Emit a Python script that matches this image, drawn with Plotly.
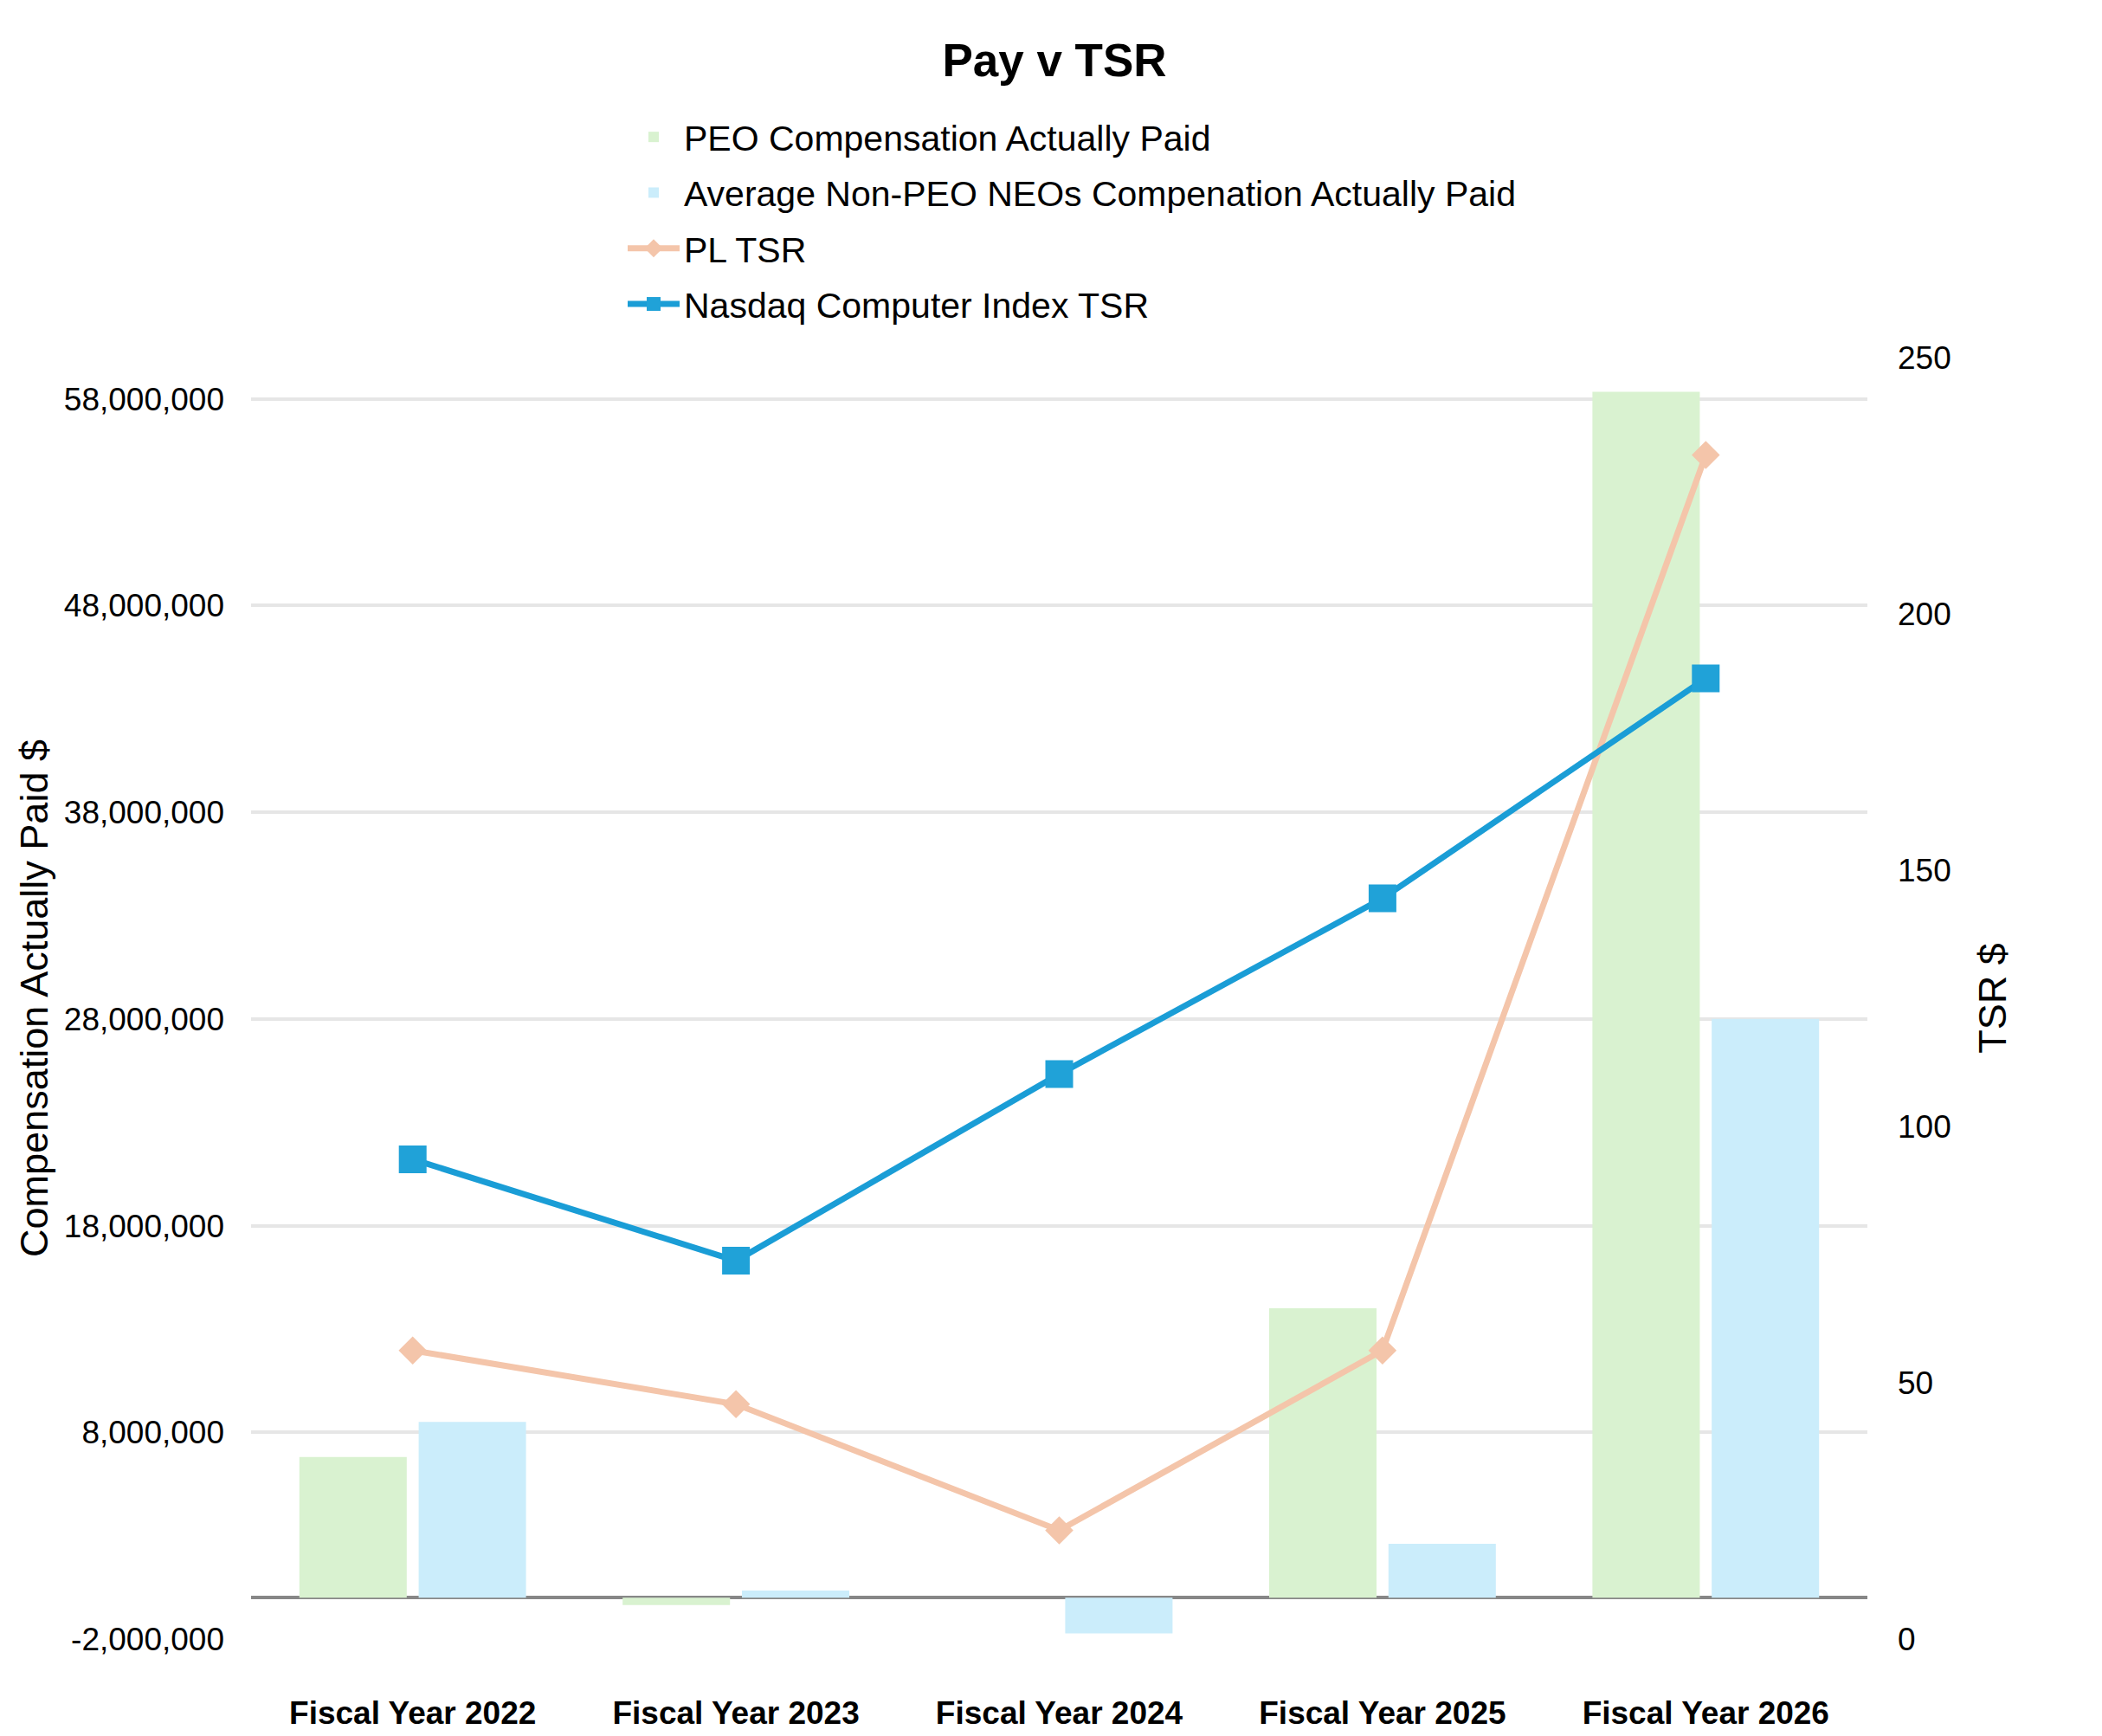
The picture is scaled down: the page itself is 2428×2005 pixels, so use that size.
import plotly.graph_objects as go

# ---------------- data ----------------
categories = ["Fiscal Year 2022", "Fiscal Year 2023", "Fiscal Year 2024",
              "Fiscal Year 2025", "Fiscal Year 2026"]
peo_cap = [6_810_000, -360_000, 0, 14_000_000, 58_350_000]
avg_neo_cap = [8_500_000, 350_000, -1_730_000, 2_610_000, 28_000_000]
pl_tsr = [56.3, 45.8, 21.2, 56.3, 231.0]
nasdaq_tsr = [93.6, 73.8, 110.2, 144.5, 187.4]

left_tickvals = [-2_000_000, 8_000_000, 18_000_000, 28_000_000,
                 38_000_000, 48_000_000, 58_000_000]
left_ticktext = ["-2,000,000", "8,000,000", "18,000,000", "28,000,000",
                 "38,000,000", "48,000,000", "58,000,000"]
right_tickvals = [0, 50, 100, 150, 200, 250]

series_names = ["PEO Compensation Actually Paid",
                "Average Non-PEO NEOs Compenation Actually Paid",
                "PL TSR",
                "Nasdaq Computer Index TSR"]

FONT = "Liberation Sans, Arial, sans-serif"

fig = go.Figure()
fig.add_trace(go.Bar(x=categories, y=peo_cap, name=series_names[0],
                     marker=dict(color="#D9F2D0", line=dict(width=0)),
                     legendgroup="a", yaxis="y"))
fig.add_trace(go.Bar(x=categories, y=avg_neo_cap, name=series_names[1],
                     marker=dict(color="#CBEDFB", line=dict(width=0)),
                     legendgroup="b", yaxis="y"))
fig.add_trace(go.Scatter(x=categories, y=pl_tsr, name=series_names[2],
                         mode="lines+markers",
                         line=dict(color="#F4C5AA", width=7),
                         marker=dict(symbol="diamond", size=25, color="#F4C5AA"),
                         legendgroup="c", yaxis="y2"))
fig.add_trace(go.Scatter(x=categories, y=nasdaq_tsr, name=series_names[3],
                         mode="lines+markers",
                         line=dict(color="#1A9DD6", width=7),
                         marker=dict(symbol="square", size=32, color="#20A2D8"),
                         legendgroup="d", yaxis="y2"))

fig.update_layout(
    width=2428, height=2005,
    margin=dict(l=290, r=271, t=413, b=112, autoexpand=False),
    paper_bgcolor="white", plot_bgcolor="white",
    font=dict(family=FONT, color="black", size=37),
    barmode="group", bargap=0.262, bargroupgap=0.1,
    title=dict(text="<b>Pay v TSR</b>", x=(1218 / 2428), xref="container",
               xanchor="center", y=1 - 69 / 2005, yanchor="middle",
               font=dict(size=53, family=FONT, color="black")),
    legend=dict(x=(720 - 290) / 1867, xanchor="left",
                y=(1893 - 125) / 1480, yanchor="top",
                font=dict(size=41, family=FONT, color="black"),
                tracegroupgap=8, itemwidth=60,
                bgcolor="rgba(0,0,0,0)"),
    showlegend=True,
    xaxis=dict(type="category", showgrid=False, showline=False,
               ticks="", ticklabelstandoff=60,
               tickfont=dict(size=37, family=FONT, color="black", weight="bold")),
    yaxis=dict(range=[-2_000_000, 60_000_000], tickvals=left_tickvals,
               ticktext=left_ticktext, showgrid=True, gridcolor="#E6E6E6",
               gridwidth=3.5, zeroline=True, zerolinecolor="#878787",
               zerolinewidth=4, showline=False, ticks="",
               ticklabelstandoff=30,
               tickfont=dict(size=37, family=FONT, color="black"),
               title=dict(text="Compensation Actually Paid $", standoff=4,
                          font=dict(size=45, family=FONT, color="black"))),
    yaxis2=dict(range=[0, 250], tickvals=right_tickvals, overlaying="y",
                side="right", showgrid=False, zeroline=False, showline=False,
                ticks="", ticklabelstandoff=34,
                tickfont=dict(size=37, family=FONT, color="black"),
                title=dict(text="TSR $", standoff=32,
                           font=dict(size=45, family=FONT, color="black"))),
)

fig.write_html("out.html")
